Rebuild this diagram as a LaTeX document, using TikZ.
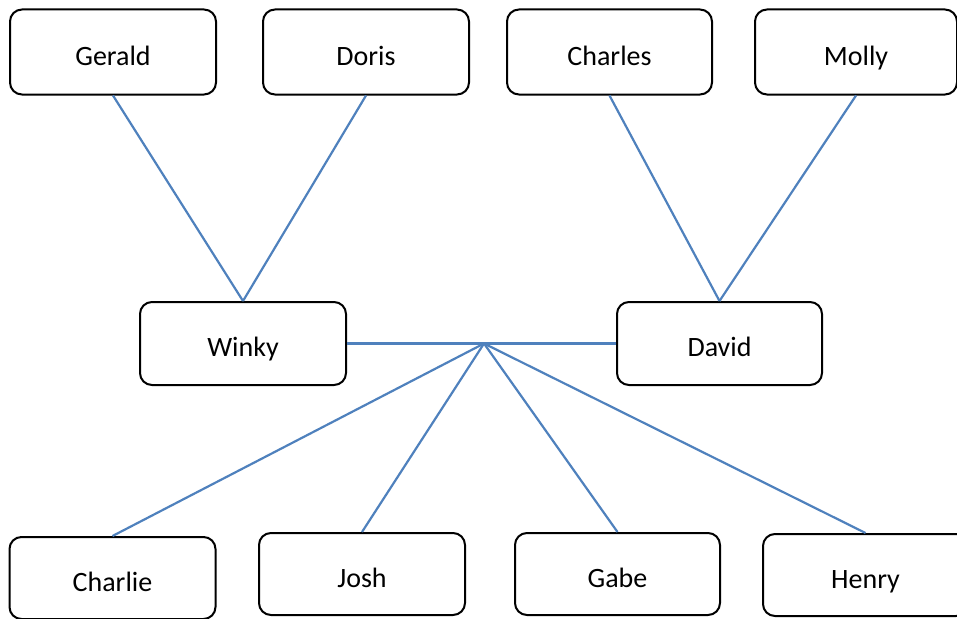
\documentclass[tikz,border=0pt]{standalone}
\usepackage{fontspec}
\setmainfont{Carlito}
\definecolor{linkblue}{HTML}{4F81BD}
\begin{document}
\begin{tikzpicture}[x=1pt,y=-1pt,
  person/.style={draw=black, line width=2pt, rounded corners=12pt, fill=white,
    minimum width=206pt, minimum height=85pt, inner sep=0pt,
    text height=28pt, text depth=2pt,
    font=\fontsize{28}{32}\selectfont},
  link/.style={draw=linkblue, line width=2.2pt}]
\useasboundingbox (0,0) rectangle (957,618);
\node[person] (gerald) at (113,52) {Gerald};
\node[person] (doris) at (366,52) {Doris};
\node[person, minimum width=205pt] (charles) at (609.5,52) {Charles};
\node[person, minimum width=202pt] (molly) at (856,52) {Molly};
\node[person, minimum height=83pt] (winky) at (243,343.5) {Winky};
\node[person, minimum width=205pt, minimum height=83pt] (david) at (719.5,343.5) {David};
\node[person, minimum height=82pt] (charlie) at (112.5,578) {Charlie};
\node[person, minimum height=82pt] (josh) at (362,574) {Josh};
\node[person, minimum width=205pt, minimum height=82pt] (gabe) at (617.5,574) {Gabe};
\node[person, minimum width=205pt, minimum height=82pt] (henry) at (865.5,575) {Henry};
\coordinate (j) at (484,343.5);
\draw[link] (gerald.south) -- (winky.north);
\draw[link] (doris.south) -- (winky.north);
\draw[link] (charles.south) -- (david.north);
\draw[link] (molly.south) -- (david.north);
\draw[link] (winky.east) -- (david.west);
\draw[link] (j) -- (charlie.north);
\draw[link] (j) -- (josh.north);
\draw[link] (j) -- (gabe.north);
\draw[link] (j) -- (henry.north);
\end{tikzpicture}
\end{document}
